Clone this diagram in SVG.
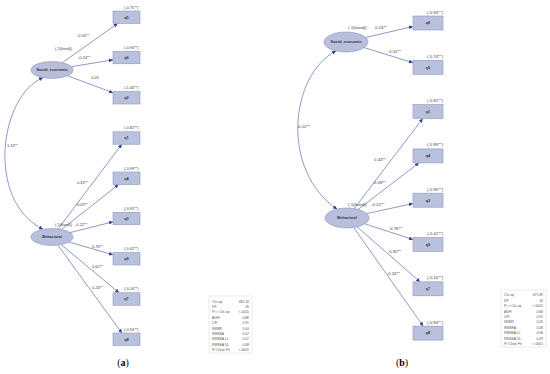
<svg xmlns="http://www.w3.org/2000/svg" width="550" height="374" viewBox="0 0 550 374">
<defs>
<marker id="arr" viewBox="0 0 10 10" refX="10" refY="5" markerWidth="4" markerHeight="4" markerUnits="userSpaceOnUse" orient="auto-start-reverse"><path d="M0,0 L10,5 L0,10 z" fill="#2f4296"/></marker>
</defs>
<style>
.ell{fill:#b7bfdc;stroke:#8a93bb;stroke-width:0.6}
.box{fill:#b9c1dd;stroke:#9098be;stroke-width:0.6}
.ln{fill:none;stroke:#5b6eb0;stroke-width:0.7;marker-end:url(#arr)}
.cv{fill:none;stroke:#5b6eb0;stroke-width:0.7;marker-start:url(#arr);marker-end:url(#arr)}
.t{font-family:"Liberation Sans",Arial,sans-serif;fill:#444;font-size:4px}
.tr{font-family:"Liberation Sans",Arial,sans-serif;fill:#444;font-size:4.4px}
.nl{font-family:"Liberation Sans",Arial,sans-serif;fill:#333;font-size:3.8px;font-weight:bold;text-anchor:middle}
.bl{font-family:"Liberation Sans",Arial,sans-serif;fill:#333;font-size:3.8px;font-weight:bold;text-anchor:middle}
.tb{fill:#fff;stroke:#d6d6d6;stroke-width:0.5}
.st{font-family:"Liberation Sans",Arial,sans-serif;fill:#555;font-size:3.4px}
.sv{font-family:"Liberation Sans",Arial,sans-serif;fill:#555;font-size:3.4px;text-anchor:end}
.cap{font-family:"Liberation Serif","Times New Roman",serif;fill:#000;font-size:10px;text-anchor:middle}
</style>
<rect width="550" height="374" fill="#fff"/>

<!-- Panel (a) connectors -->
<g id="connectors-a">
<path class="cv" d="M43,77.7 C0,95 -15,200 43,229.3"/>
<line class="ln" x1="62.4" y1="62.6" x2="117.7" y2="23.5"/>
<line class="ln" x1="71.4" y1="66.7" x2="113" y2="59.8"/>
<line class="ln" x1="67.5" y1="75.8" x2="113" y2="92.7"/>
<line class="ln" x1="58.1" y1="228.9" x2="121.8" y2="144.25"/>
<line class="ln" x1="61.6" y1="229.4" x2="118.6" y2="184.5"/>
<line class="ln" x1="69.9" y1="232.6" x2="113" y2="221.85"/>
<line class="ln" x1="69.0" y1="242.0" x2="113" y2="254.8"/>
<line class="ln" x1="61.2" y1="244.6" x2="119.0" y2="292.75"/>
<line class="ln" x1="57.9" y1="245.2" x2="121.9" y2="333"/>
</g>
<g id="labels-a" class="t">
<text x="55" y="49.5">(.1(fixed))</text>
<text x="77" y="36.5">-0.50**</text>
<text x="78" y="58.5">-0.24**</text>
<text x="91" y="78.5">0.02</text>
<text x="7" y="146.5">1.19**</text>
<text x="77" y="183.5">0.43**</text>
<text x="77" y="205.5">0.09**</text>
<text x="55" y="225.5">(.1(fixed))</text>
<text x="75" y="225.5">-0.22**</text>
<text x="92" y="247.5">0.76**</text>
<text x="92" y="267.5">0.62**</text>
<text x="92" y="288.5">0.24**</text>
</g>

<g id="a-social"><ellipse class="ell" cx="52" cy="70" rx="21" ry="8.5"/><text class="nl" x="52" y="71.3">Social_economic</text></g>
<g id="a-behavioral"><ellipse class="ell" cx="52" cy="237" rx="21" ry="8.5"/><text class="nl" x="52" y="238.3">Behavioral</text></g>

<g id="a-q5"><rect class="box" x="113" y="11" width="27" height="12.5"/><text class="bl" x="126.5" y="18.6">q5</text><text class="t" x="124" y="8.5">(.0.75**)</text></g>
<g id="a-q6"><rect class="box" x="113" y="51.25" width="27" height="12.5"/><text class="bl" x="126.5" y="58.9">q6</text><text class="t" x="124" y="48.75">(.0.94**)</text></g>
<g id="a-q2"><rect class="box" x="113" y="91.5" width="27" height="12.5"/><text class="bl" x="126.5" y="99.1">q2</text><text class="t" x="124" y="89">(.1.06**)</text></g>
<g id="a-q1"><rect class="box" x="113" y="131.75" width="27" height="12.5"/><text class="bl" x="126.5" y="139.4">q1</text><text class="t" x="124" y="129.25">(.0.82**)</text></g>
<g id="a-q4"><rect class="box" x="113" y="172" width="27" height="12.5"/><text class="bl" x="126.5" y="179.6">q4</text><text class="t" x="124" y="169.5">(.0.99**)</text></g>
<g id="a-q3"><rect class="box" x="113" y="212.25" width="27" height="12.5"/><text class="bl" x="126.5" y="219.9">q3</text><text class="t" x="124" y="209.75">(.0.95**)</text></g>
<g id="a-q9"><rect class="box" x="113" y="252.5" width="27" height="12.5"/><text class="bl" x="126.5" y="260.1">q9</text><text class="t" x="124" y="250">(.0.42**)</text></g>
<g id="a-q7"><rect class="box" x="113" y="292.75" width="27" height="12.5"/><text class="bl" x="126.5" y="300.4">q7</text><text class="t" x="124" y="290.25">(.0.16**)</text></g>
<g id="a-q8"><rect class="box" x="113" y="333" width="27" height="12.5"/><text class="bl" x="126.5" y="340.6">q8</text><text class="t" x="124" y="330.5">(.0.94**)</text></g>

<g id="a-fit">
<rect class="tb" x="209" y="296" width="43" height="57"/>
<text class="st" x="212" y="302.5">Chi-sq.</text><text class="sv" x="249" y="302.5">485.34</text>
<text class="st" x="212" y="307.9">DF</text><text class="sv" x="249" y="307.9">26</text>
<text class="st" x="212" y="313.3">Pr &gt; Chi-sq.</text><text class="sv" x="249" y="313.3">&lt;.0001</text>
<text class="st" x="212" y="318.7">AGFI</text><text class="sv" x="249" y="318.7">0.86</text>
<text class="st" x="212" y="324.1">CFI</text><text class="sv" x="249" y="324.1">0.91</text>
<text class="st" x="212" y="329.5">SRMR</text><text class="sv" x="249" y="329.5">0.04</text>
<text class="st" x="212" y="334.9">RMSEA</text><text class="sv" x="249" y="334.9">0.07</text>
<text class="st" x="212" y="340.3">RMSEA LL</text><text class="sv" x="249" y="340.3">0.07</text>
<text class="st" x="212" y="345.7">RMSEA UL</text><text class="sv" x="249" y="345.7">0.08</text>
<text class="st" x="212" y="351.1">Pr Close Fit</text><text class="sv" x="249" y="351.1">&lt;.0001</text>
</g>

<!-- Panel (b) connectors -->
<g id="connectors-b">
<path class="cv" d="M336,50.9 C290,75 280,170 337,209.1"/>
<line class="ln" x1="365.6" y1="37.5" x2="413" y2="26.5"/>
<line class="ln" x1="364.2" y1="47.6" x2="413" y2="62.7"/>
<line class="ln" x1="354.2" y1="208.6" x2="422.7" y2="118.6"/>
<line class="ln" x1="358.2" y1="209.4" x2="418.9" y2="162.9"/>
<line class="ln" x1="366.8" y1="213.6" x2="413" y2="203.5"/>
<line class="ln" x1="364.9" y1="223.8" x2="413" y2="239.6"/>
<line class="ln" x1="357.1" y1="226.9" x2="420" y2="281.8"/>
<line class="ln" x1="353.7" y1="227.5" x2="423.1" y2="326.1"/>
</g>
<g id="labels-b" class="tr">
<text x="348" y="28.5">(.1(fixed))</text>
<text x="375" y="28.5">0.24**</text>
<text x="389" y="52.5">0.51**</text>
<text x="298" y="127.5">0.12**</text>
<text x="374" y="160.5">0.43**</text>
<text x="374" y="183.5">0.09**</text>
<text x="348" y="205.5">(.1(fixed))</text>
<text x="371" y="205.5">-0.22**</text>
<text x="390" y="229.5">0.76**</text>
<text x="389" y="252.5">0.92**</text>
<text x="388" y="274.5">0.24**</text>
</g>

<g id="b-social"><ellipse class="ell" cx="346" cy="42" rx="22" ry="10"/><text class="nl" x="346" y="43.3">Social_economic</text></g>
<g id="b-behavioral"><ellipse class="ell" cx="347" cy="218" rx="22" ry="10"/><text class="nl" x="347" y="219.3">Behavioral</text></g>

<g id="b-q6"><rect class="box" x="413" y="16" width="30" height="14"/><text class="bl" x="428" y="24.3">q6</text><text class="tr" x="427" y="13.5">(.0.94**)</text></g>
<g id="b-q5"><rect class="box" x="413" y="60.3" width="30" height="14"/><text class="bl" x="428" y="68.6">q5</text><text class="tr" x="427" y="57.8">(.0.74**)</text></g>
<g id="b-q1"><rect class="box" x="413" y="104.6" width="30" height="14"/><text class="bl" x="428" y="112.9">q1</text><text class="tr" x="427" y="102.1">(.0.82**)</text></g>
<g id="b-q4"><rect class="box" x="413" y="148.9" width="30" height="14"/><text class="bl" x="428" y="157.2">q4</text><text class="tr" x="427" y="146.4">(.0.99**)</text></g>
<g id="b-q3"><rect class="box" x="413" y="193.2" width="30" height="14"/><text class="bl" x="428" y="201.5">q3</text><text class="tr" x="427" y="190.7">(.0.95**)</text></g>
<g id="b-q9"><rect class="box" x="413" y="237.5" width="30" height="14"/><text class="bl" x="428" y="245.8">q9</text><text class="tr" x="427" y="235">(.0.42**)</text></g>
<g id="b-q7"><rect class="box" x="413" y="281.8" width="30" height="14"/><text class="bl" x="428" y="290.1">q7</text><text class="tr" x="427" y="279.3">(.0.16**)</text></g>
<g id="b-q8"><rect class="box" x="413" y="326.1" width="30" height="14"/><text class="bl" x="428" y="334.4">q8</text><text class="tr" x="427" y="323.6">(.0.94**)</text></g>

<g id="b-fit">
<rect class="tb" x="501" y="290" width="45" height="57"/>
<text class="st" x="504" y="296.3">Chi-sq</text><text class="sv" x="543" y="296.3">471.89</text>
<text class="st" x="504" y="301.7">DF</text><text class="sv" x="543" y="301.7">16</text>
<text class="st" x="504" y="307.1">Pr &gt; Chi-sq</text><text class="sv" x="543" y="307.1">&lt;.0001</text>
<text class="st" x="504" y="312.5">AGFI</text><text class="sv" x="543" y="312.5">0.84</text>
<text class="st" x="504" y="317.9">CFI</text><text class="sv" x="543" y="317.9">0.91</text>
<text class="st" x="504" y="323.3">SRMR</text><text class="sv" x="543" y="323.3">0.05</text>
<text class="st" x="504" y="328.7">RMSEA</text><text class="sv" x="543" y="328.7">0.08</text>
<text class="st" x="504" y="334.1">RMSEA LL</text><text class="sv" x="543" y="334.1">0.08</text>
<text class="st" x="504" y="339.5">RMSEA UL</text><text class="sv" x="543" y="339.5">0.09</text>
<text class="st" x="504" y="344.9">Pr Close Fit</text><text class="sv" x="543" y="344.9">&lt;.0001</text>
</g>

<text class="cap" x="123" y="366">(<tspan font-weight="bold">a</tspan>)</text>
<text class="cap" x="402" y="366">(<tspan font-weight="bold">b</tspan>)</text>
</svg>
